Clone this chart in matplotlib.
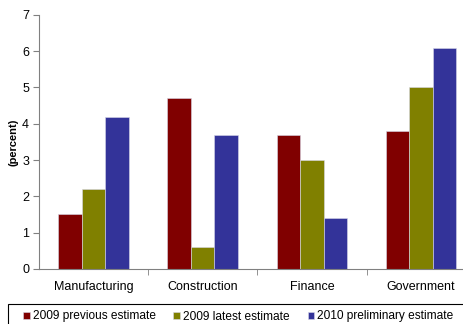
import numpy as np
import matplotlib.pyplot as plt
from matplotlib.patches import Rectangle

plt.rcParams['font.family'] = ['Liberation Sans', 'DejaVu Sans']

categories = ['Manufacturing', 'Construction', 'Finance', 'Government']
series_names = ['2009 previous estimate', '2009 latest estimate', '2010 preliminary estimate']
prev_2009 = [1.5, 4.7, 3.7, 3.8]
latest_2009 = [2.2, 0.6, 3.0, 5.0]
prelim_2010 = [4.2, 3.7, 1.4, 6.1]
colors = ['#800000', '#808000', '#333399']

fig = plt.figure(figsize=(4.63, 3.24), dpi=100)
ax = fig.add_axes([0.084, 0.17, 0.92, 0.784])

x = np.arange(len(categories))
w = 0.215
for i, vals in enumerate([prev_2009, latest_2009, prelim_2010]):
    ax.bar(x + (i - 1) * w, vals, w, color=colors[i], label=series_names[i],
           edgecolor='#d8d8e8', linewidth=0.4)

ax.set_xlim(-0.5, 3.4)
ax.set_ylim(0, 7)
ax.set_yticks(range(8))
ax.set_xticks(x)
ax.set_xticklabels(categories, fontsize=9)
ax.tick_params(axis='x', length=0, pad=9)
ax.set_xticks(np.arange(0.5, 3.5, 1), minor=True)
ax.tick_params(axis='x', which='minor', length=4, color='#808080')
ax.tick_params(axis='y', labelsize=9, length=4, color='#808080', pad=3)
ax.set_ylabel('(percent)', fontsize=8, fontweight='bold', labelpad=3)
for s in ['top', 'right']:
    ax.spines[s].set_visible(False)
for s in ['left', 'bottom']:
    ax.spines[s].set_color('#808080')

# legend box runs off the right and bottom edges, as in the reference
fig.patches.append(Rectangle((8 / 463, -0.1), 1.0, 20 / 324 + 0.1, transform=fig.transFigure,
                             fill=False, edgecolor='black', linewidth=0.8))
fig.legend(loc='center left', bbox_to_anchor=(23 / 463, 1 - 316.5 / 324), frameon=False,
           ncol=3, fontsize=8.6, handlelength=0.55, handleheight=0.55, handletextpad=0.25,
           columnspacing=1.5, borderpad=0, borderaxespad=0)

fig.savefig('out.png', dpi=100)
